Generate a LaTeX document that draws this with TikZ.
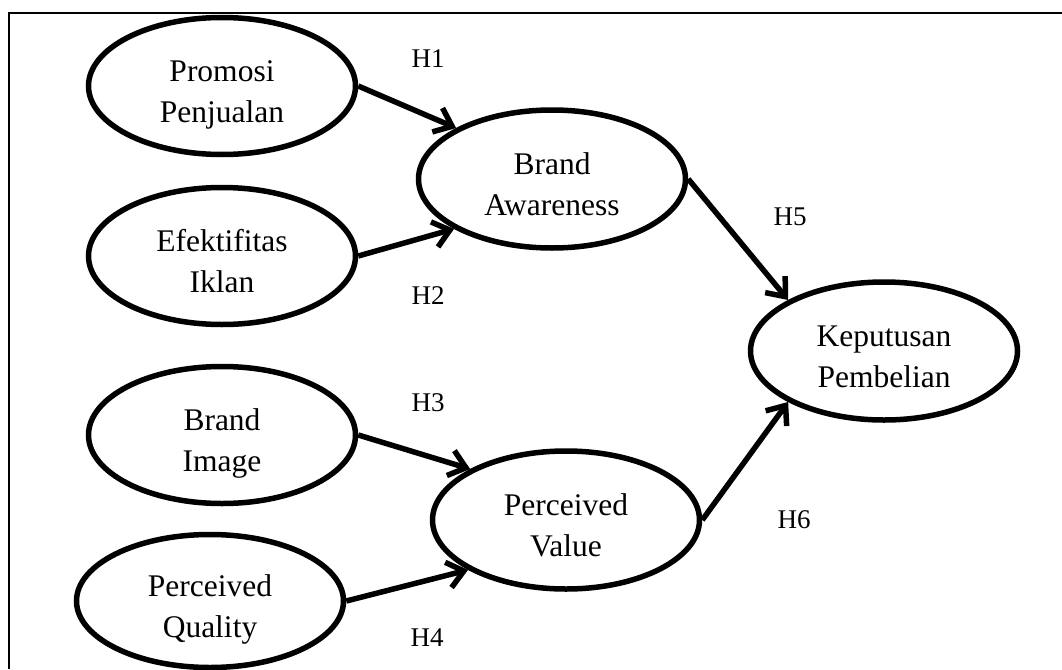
\documentclass[tikz,border=0pt]{standalone}
\usepackage{fontspec}
\setmainfont{Liberation Serif}
\usetikzlibrary{shapes.geometric,arrows.meta}
\newcommand{\twoline}[2]{\raisebox{5pt}[0pt][0pt]{\begin{tabular}[t]{@{}c@{}}#1\\#2\end{tabular}}}
\begin{document}
\begin{tikzpicture}[x=1pt,y=-1pt,
  construct/.style={ellipse, draw, line width=5.5pt, inner sep=0pt,
    minimum width=267pt, minimum height=137pt,
    font=\fontsize{31.5}{41.5}\selectfont},
  hyp/.style={line width=5.5pt, -{Straight Barb[length=16pt,width=26pt]}},
  hlabel/.style={inner sep=0pt, font=\fontsize{27}{32}\selectfont}]
\useasboundingbox (0,0) rectangle (1062,669);
\draw[line width=2pt] (9,669) -- (9,13) -- (1062,13);

\node[construct] (pj) at (222,86) {\twoline{Promosi}{Penjualan}};
\node[construct] (ei) at (222,256) {\twoline{Efektifitas}{Iklan}};
\node[construct] (bi) at (222,435) {\twoline{Brand}{Image}};
\node[construct, minimum height=133pt] (pq) at (210,601) {\twoline{Perceived}{Quality}};
\node[construct, minimum height=138pt] (ba) at (552,179) {\twoline{Brand}{Awareness}};
\node[construct, minimum height=138pt] (pv) at (566,520) {\twoline{Perceived}{Value}};
\node[construct, minimum height=138pt] (kp) at (884,351) {\twoline{Keputusan}{Pembelian}};

\draw[hyp] (pj.east) -- (ba.152.5);
\draw[hyp] (ei.east) -- (ba.207.5);
\draw[hyp] (bi.east) -- (pv.152.5);
\draw[hyp] (pq.east) -- (pv.207.5);
\draw[hyp] (ba.east) -- (kp.152);
\draw[hyp] (pv.east) -- (kp.208);

\node[hlabel] (h1) at (428,59) {H1};
\node[hlabel] (h2) at (428,296) {H2};
\node[hlabel] (h3) at (428,403) {H3};
\node[hlabel] (h4) at (427,638) {H4};
\node[hlabel] (h5) at (790,217) {H5};
\node[hlabel] (h6) at (794,520) {H6};
\end{tikzpicture}
\end{document}
